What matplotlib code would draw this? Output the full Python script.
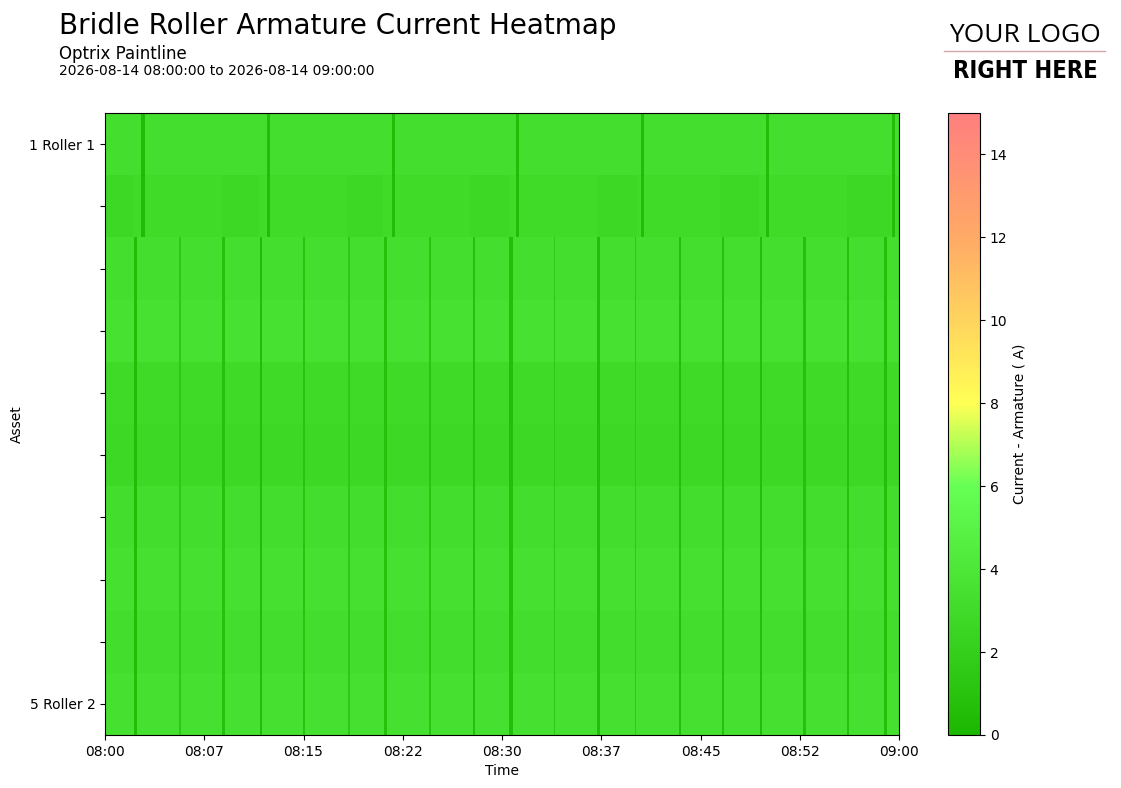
import numpy as np
import matplotlib
matplotlib.use("Agg")
import matplotlib.pyplot as plt
import matplotlib.dates as mdates
from matplotlib.colors import LinearSegmentedColormap
from datetime import datetime, timedelta

# ---------------- data ----------------
assets = ['1 Roller 1', '1 Roller 2', '2 Roller 1', '2 Roller 2', '3 Roller 1',
          '3 Roller 2', '4 Roller 1', '4 Roller 2', '5 Roller 1', '5 Roller 2']
shown_labels = ['1 Roller 1', '', '', '', '', '', '', '', '', '5 Roller 2']
base_current = [3.25, 2.9, 3.25, 3.5, 2.85, 2.65, 3.2, 3.4, 3.2, 3.4]

# Bridle 1 rollers (rows 0-1): stop events (minutes after 08:00)
b1_dip_min = [2.85, 12.34, 21.79, 31.16, 40.60, 50.08, 59.57]
b1_dip_width = [0.25, 0.22, 0.22, 0.22, 0.22, 0.22, 0.22]
b1_dip_current = [0.4, 0.5, 0.5, 0.5, 0.5, 0.5, 0.6]
# Roller 2 of bridle 1: heavier load phases (start, end, current)
r2_load_start = [0.15, 8.85, 18.30, 27.60, 37.20, 46.50, 56.10]
r2_load_end = [2.10, 11.60, 21.00, 30.60, 40.20, 49.40, 59.30]
r2_load_current = [2.7, 2.7, 2.7, 2.7, 2.7, 2.7, 2.7]

# Other bridles (rows 2-9): stop events
bx_dip_min = [2.32, 5.67, 8.97, 11.79, 15.06, 18.42, 21.21, 24.56, 27.88, 30.66,
              33.95, 37.31, 40.10, 43.45, 46.72, 49.57, 52.84, 56.17, 59.02]
bx_dip_width = [0.20, 0.12, 0.25, 0.18, 0.18, 0.12, 0.18, 0.18, 0.18, 0.25,
                0.12, 0.18, 0.12, 0.18, 0.18, 0.18, 0.18, 0.18, 0.20]
bx_dip_current = [0.5, 1.5, 0.8, 0.5, 1.0, 1.5, 0.8, 1.0, 0.8, 0.6,
                  1.5, 0.6, 1.5, 0.7, 0.8, 0.6, 0.8, 0.8, 0.7]

start_time = datetime(2026, 8, 14, 8, 0, 0)
end_time = datetime(2026, 8, 14, 9, 0, 0)
step_min = 0.05

# ---------------- build grid ----------------
n_cols = int(round(60 / step_min))
t_mid = (np.arange(n_cols) + 0.5) * step_min
grid = np.zeros((len(assets), n_cols))
for r in range(len(assets)):
    row = np.full(n_cols, base_current[r])
    if r == 1:
        for s, e, v in zip(r2_load_start, r2_load_end, r2_load_current):
            row[(t_mid >= s) & (t_mid < e)] = v
    if r < 2:
        dips = zip(b1_dip_min, b1_dip_width, b1_dip_current)
    else:
        dips = zip(bx_dip_min, bx_dip_width, bx_dip_current)
    for c, w, v in dips:
        row[np.abs(t_mid - c) <= w / 2] = v
    grid[r] = row

x_edges = [start_time + timedelta(minutes=i * step_min) for i in range(n_cols + 1)]
x_edges = mdates.date2num(x_edges)
y_edges = np.arange(len(assets) + 1)

cmap = LinearSegmentedColormap.from_list(
    'optrix',
    [(0.0, '#1cb800'), (6 / 15, '#66ff55'), (8 / 15, '#ffff55'),
     (12 / 15, '#ffaa66'), (1.0, '#ff7f7f')])

# ---------------- figure ----------------
fig = plt.figure(figsize=(11.21, 7.88), dpi=100)
ax = fig.add_axes([105 / 1121, 1 - 735 / 788, 794 / 1121, 622 / 788])
cax = fig.add_axes([948 / 1121, 1 - 735 / 788, 32 / 1121, 622 / 788])

mesh = ax.pcolormesh(x_edges, y_edges, grid, cmap=cmap, vmin=0, vmax=15,
                     shading='flat', rasterized=True)
ax.set_ylim(len(assets), 0)
ax.set_xlim(mdates.date2num(start_time), mdates.date2num(end_time))
ax.set_yticks(np.arange(len(assets)) + 0.5)
ax.set_yticklabels(shown_labels)
ticks = [start_time + timedelta(minutes=7.5 * i) for i in range(9)]
ax.set_xticks(mdates.date2num(ticks))
ax.xaxis.set_major_formatter(mdates.DateFormatter('%H:%M'))
ax.set_xlabel('Time')
ax.set_ylabel('Asset')

cb = fig.colorbar(mesh, cax=cax)
cb.set_ticks(np.arange(0, 15, 2))
cb.set_label('Current - Armature ( A)')

fig.text(59 / 1121, 1 - 26 / 788, 'Bridle Roller Armature Current Heatmap',
         fontsize=20, va='center', ha='left')
fig.text(59 / 1121, 1 - 54 / 788, 'Optrix Paintline', fontsize=12,
         va='center', ha='left')
fig.text(59 / 1121, 1 - 71 / 788, '2026-08-14 08:00:00 to 2026-08-14 09:00:00',
         fontsize=10, va='center', ha='left')

# logo placeholder
fig.text(1025 / 1121, 1 - 35 / 788, 'YOUR LOGO', fontsize=19,
         family=['Open Sans', 'DejaVu Sans'], va='center', ha='center')
fig.add_artist(plt.Line2D([944 / 1121, 1105 / 1121], [1 - 51 / 788, 1 - 51 / 788],
                          color='#d4a8a8', lw=1, transform=fig.transFigure))
fig.text(1025 / 1121, 1 - 71 / 788, 'RIGHT HERE', fontsize=17, fontweight='bold',
         fontstretch='condensed', family=['DejaVu Sans'],
         va='center', ha='center')

fig.savefig('out.png', dpi=100)
